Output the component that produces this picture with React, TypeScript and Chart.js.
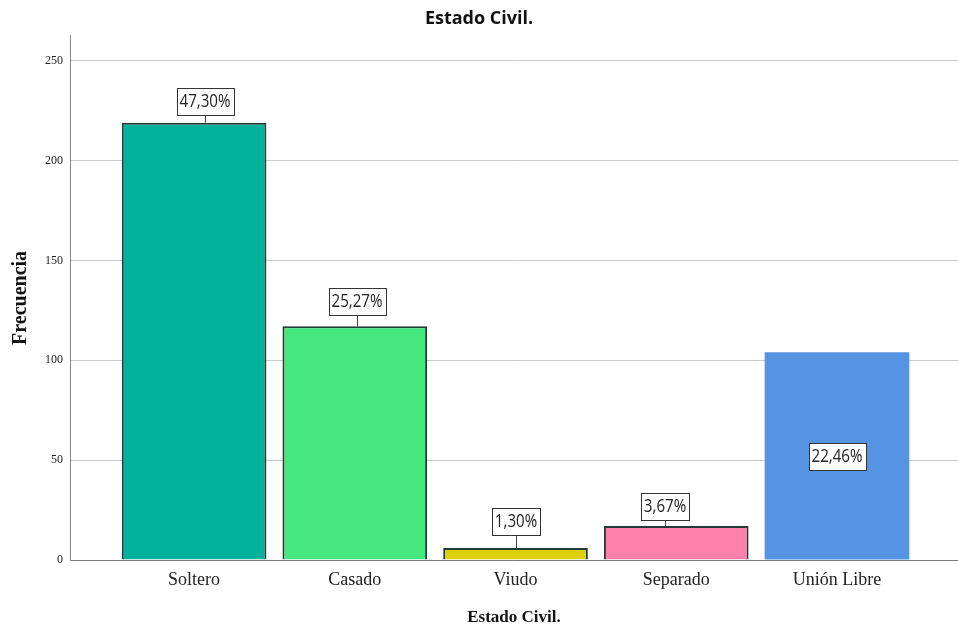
import React, { useEffect, useRef } from "react";
import { Chart, registerables } from "chart.js";

Chart.register(...registerables);

// Marital status frequencies
const categories = ["Soltero", "Casado", "Viudo", "Separado", "Unión Libre"];
const counts = [219, 117, 6, 17, 104];
const barColors = ["#00B29B", "#44E87E", "#DDCF0C", "#FF80AB", "#5494E3"];
const yTicks = [0, 50, 100, 150, 200, 250];

// Label placement: horizontal nudge, gap above bar, and whether the label sits inside the bar
const labelShift = [11, 2, 0, -11, 0];
const labelGap = [8, 12, 14, 7, 0];
const labelInside = [false, false, false, false, true];

const total = counts.reduce((a, b) => a + b, 0);
const percentLabels = counts.map((c) => ((c / total) * 100).toFixed(2).replace(".", ",") + "%");

// Condensed look for the percentage labels
const LABEL_SQUEEZE = 0.84;

const percentLabelPlugin = {
  id: "percentLabels",
  afterDatasetsDraw(chart: any) {
    const ctx = chart.ctx as CanvasRenderingContext2D;
    const meta = chart.getDatasetMeta(0);
    ctx.save();
    ctx.font = '18px "Open Sans", sans-serif';
    ctx.textAlign = "center";
    ctx.textBaseline = "middle";
    meta.data.forEach((bar: any, i: number) => {
      const { x, y, base } = bar.getProps(["x", "y", "base"], true);
      const text = percentLabels[i];
      const w = Math.round(ctx.measureText(text).width * LABEL_SQUEEZE + 6);
      const h = 27;
      const cx = Math.round(x + labelShift[i]);
      let cy: number;
      if (labelInside[i]) {
        cy = Math.round((y + base) / 2);
      } else {
        cy = Math.round(y - labelGap[i] - h / 2);
        ctx.strokeStyle = "#444";
        ctx.lineWidth = 1;
        ctx.beginPath();
        ctx.moveTo(cx + 0.5, cy + h / 2);
        ctx.lineTo(cx + 0.5, y);
        ctx.stroke();
      }
      const left = Math.round(cx - w / 2) + 0.5;
      const top = Math.round(cy - h / 2) + 0.5;
      ctx.fillStyle = "#fff";
      ctx.fillRect(left, top, w, h);
      ctx.strokeStyle = "#333";
      ctx.lineWidth = 1;
      ctx.strokeRect(left, top, w, h);
      ctx.fillStyle = "#222";
      ctx.save();
      ctx.translate(cx, cy + 1);
      ctx.scale(LABEL_SQUEEZE, 1);
      ctx.fillText(text, 0, 0);
      ctx.restore();
    });
    ctx.restore();
  },
};

export default function App() {
  const canvasRef = useRef<HTMLCanvasElement | null>(null);

  useEffect(() => {
    document.body.style.margin = "0";
    const canvas = canvasRef.current;
    if (!canvas) return;
    const chart = new Chart(canvas, {
      type: "bar",
      data: {
        datasets: [
          {
            data: counts.map((v, i) => ({ x: i, y: v })),
            backgroundColor: barColors,
            borderColor: barColors.map((_, i) => (i === 4 ? "rgba(0,0,0,0)" : "#233a36")),
            borderWidth: barColors.map((_, i) => (i === 4 ? 0 : 2)),
            barPercentage: 0.9,
            categoryPercentage: 1,
          },
        ],
      },
      options: {
        responsive: false,
        animation: false,
        layout: { padding: 0 },
        plugins: {
          legend: { display: false },
          tooltip: { enabled: false },
          title: {
            display: true,
            text: "Estado Civil.",
            color: "#111",
            font: { family: '"Open Sans", sans-serif', size: 18, weight: "bold", lineHeight: 1.1 },
            padding: { top: 9, bottom: 7 },
          },
        },
        scales: {
          x: {
            type: "linear",
            offset: false,
            min: -0.772,
            max: 4.753,
            afterBuildTicks: (scale: any) => {
              scale.ticks = categories.map((_, i) => ({ value: i }));
            },
            afterFit: (scale: any) => {
              scale.height = 71;
            },
            grid: { display: false, drawTicks: false, offset: false },
            border: { display: true, color: "#7a7a7a", width: 1 },
            ticks: {
              callback: (v: any) => categories[v as number] ?? "",
              color: "#222",
              padding: 9,
              maxRotation: 0,
              autoSkip: false,
              font: { family: '"Liberation Serif", "Times New Roman", serif', size: 18 },
            },
            title: {
              display: true,
              text: "Estado Civil.",
              color: "#111",
              font: { family: '"Liberation Serif", "Times New Roman", serif', size: 17, weight: "bold", lineHeight: 1.2 },
              padding: { top: 0, bottom: 3 },
            },
          },
          y: {
            min: 0,
            max: 262.5,
            afterBuildTicks: (scale: any) => {
              scale.ticks = yTicks.map((v) => ({ value: v }));
            },
            afterFit: (scale: any) => {
              scale.width = 70;
            },
            grid: { color: "#c9c9c9", lineWidth: 1, drawTicks: false },
            border: { display: true, color: "#8a8a8a", width: 1 },
            ticks: {
              color: "#222",
              padding: 7,
              font: { family: '"Liberation Serif", "Times New Roman", serif', size: 12 },
            },
            title: {
              display: true,
              text: "Frecuencia",
              color: "#111",
              font: { family: '"Liberation Serif", "Times New Roman", serif', size: 20, weight: "bold", lineHeight: 1.2 },
              padding: { top: 9, bottom: 0 },
            },
          },
        },
      },
      plugins: [percentLabelPlugin],
    });
    return () => chart.destroy();
  }, []);

  return (
    <div style={{ width: 958, height: 631, background: "#fff" }}>
      <canvas ref={canvasRef} width={958} height={631} />
    </div>
  );
}
